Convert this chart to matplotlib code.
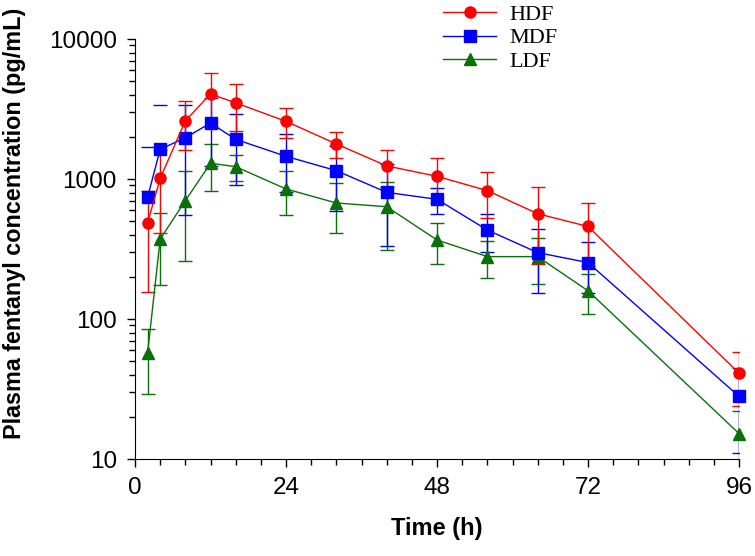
import numpy as np
import matplotlib.pyplot as plt

# sampling times (h)
time_h = [2, 4, 8, 12, 16, 24, 32, 40, 48, 56, 64, 72, 96]

# mean plasma fentanyl (pg/mL) and SD for each dose group
hdf = [485, 1010, 2600, 4050, 3500, 2580, 1780, 1240, 1045, 826, 565, 458, 41]
hdf_sd = [330, 600, 1000, 1700, 1290, 610, 370, 370, 375, 300, 316, 220, 17]
mdf = [740, 1630, 1970, 2510, 1920, 1452, 1147, 803, 716, 432, 298, 253, 28]
mdf_sd = [965, 1765, 1420, 1280, 1010, 645, 560, 470, 150, 130, 145, 100, 17]
ldf = [57, 372, 700, 1295, 1225, 849, 674, 634, 367, 279, 279, 159, 15.2]
ldf_sd = [28, 197, 440, 480, 255, 295, 265, 325, 118, 84, 100, 51, 7]

labels = ['HDF', 'MDF', 'LDF']
colors = ['#ff0000', '#0000ff', '#0a700a']
markers = ['o', 's', '^']

plt.rcParams['font.family'] = ['Liberation Sans', 'DejaVu Sans']

fig = plt.figure(figsize=(7.55, 5.56), dpi=100)
ax = fig.add_axes([135 / 755, 1 - 459 / 556, 604 / 755, 420 / 556])

series = [(hdf, hdf_sd), (mdf, mdf_sd), (ldf, ldf_sd)]
handles = []
# draw low dose first so the high dose sits on top
for i in [2, 1, 0]:
    mean, sd = np.array(series[i][0], float), np.array(series[i][1], float)
    # lower bar is not shown when mean - SD falls below zero
    lower = np.where(sd < mean, sd, np.nan)
    ax.errorbar(time_h, mean, yerr=[lower, sd], fmt='none', ecolor=colors[i],
                elinewidth=1.0, capsize=5, capthick=1.0, zorder=2 + (2 - i))
    h, = ax.plot(time_h, mean, color=colors[i], marker=markers[i], markersize=8,
                 linewidth=1.0, clip_on=False, zorder=5 + (2 - i), label=labels[i])
    handles.append(h)

ax.set_yscale('log')
ax.set_ylim(10, 10000)
ax.set_xlim(0, 96)
ax.set_xticks([0, 24, 48, 72, 96])
ax.set_xticks(np.arange(0, 97, 4), minor=True)
ax.set_yticks([10, 100, 1000, 10000])
ax.set_yticklabels(['10', '100', '1000', '10000'])

ax.spines['top'].set_visible(False)
ax.spines['right'].set_visible(False)
ax.tick_params(which='major', direction='out', length=6, width=1, labelsize=17.5, pad=7)
ax.tick_params(which='minor', direction='out', length=4, width=1)

ax.set_xlabel('Time (h)', fontsize=17, fontweight='bold', labelpad=13)
ax.set_ylabel('Plasma fentanyl concentration (pg/mL)', fontsize=16.8, fontweight='bold')
ax.yaxis.set_label_coords(-0.18, 0.56)

handles = handles[::-1]
fig.legend(handles, labels, loc='upper left', bbox_to_anchor=(443 / 755, 0.992),
           frameon=False, borderpad=0, borderaxespad=0, handlelength=2.4,
           handletextpad=0.6, labelspacing=0.13,
           prop={'family': 'Liberation Serif', 'size': 16})

fig.savefig('out.png', dpi=100)
